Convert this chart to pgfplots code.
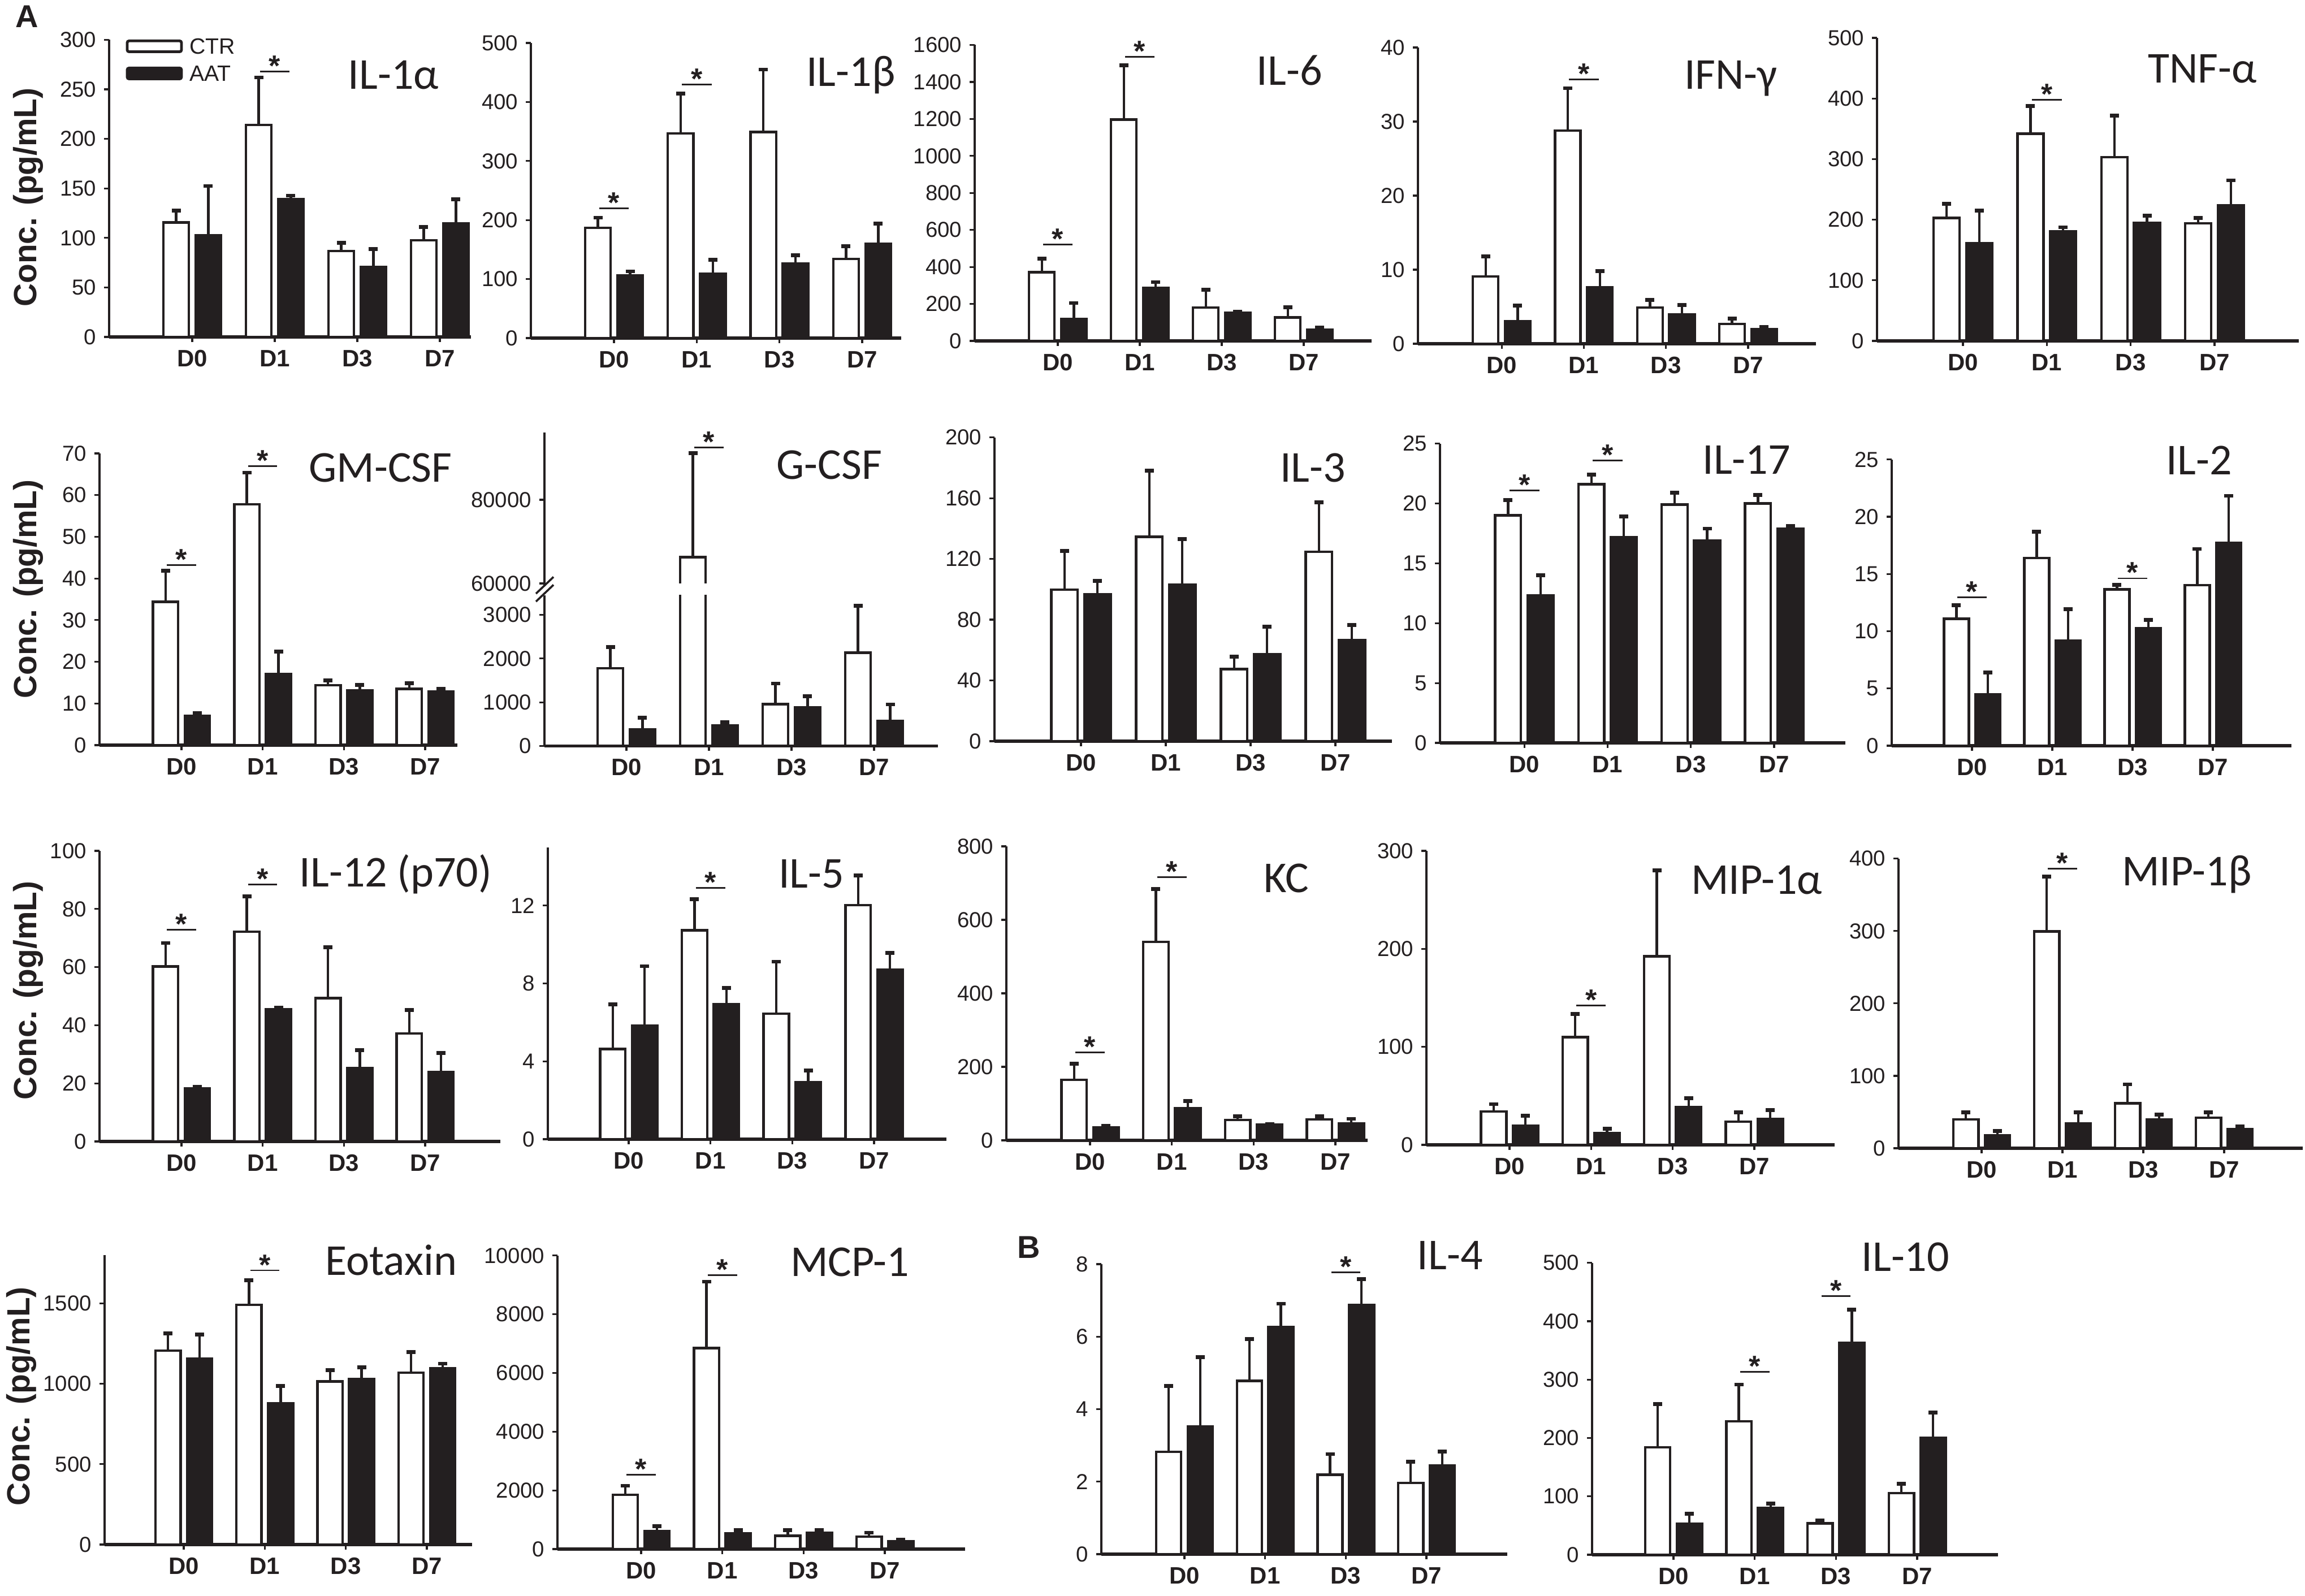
\documentclass[border=0pt]{standalone}
\usepackage{pgfplots}
\pgfplotsset{compat=1.18}
\usepackage{pgfplotstable}
\usepackage{fontspec}
\setmainfont{Liberation Sans}
\newfontfamily\titlefont{Carlito}
\definecolor{ink}{HTML}{231F20}

\pgfplotstableread{
x c ct a at
0 115.5 127.4 102.7 152.4
1 214 262 139 142.7
2 86.7 95 70.9 88.7
3 97.6 110.9 114.7 139
}\tA
\pgfplotstableread{
x c ct a at
0 187 204 106 113
1 347 414 109 133
2 349 455 126 140
3 134 156 160 194
}\tB
\pgfplotstableread{
x c ct a at
0 371 444 120 205
1 1197 1491 286 318
2 181 277 151 159
3 127 183 62 72
}\tC
\pgfplotstableread{
x c ct a at
0 9.1 11.8 3.07 5.18
1 28.8 34.5 7.63 9.78
2 4.9 5.93 3.99 5.25
3 2.69 3.37 1.94 2.28
}\tD
\pgfplotstableread{
x c ct a at
0 203 226 161 215
1 342 387.5 181 187.5
2 303 372 195 207
3 194 203 224 265
}\tE
\pgfplotstableread{
x c ct a at
0 34.4 41.9 7.06 7.65
1 57.8 65.4 17.1 22.5
2 14.4 15.5 13.2 14.4
3 13.5 14.9 12.9 13.5
}\tF
\pgfplotstableread{
x c ct a at
0 1776 2266 381 651
1 66257 91108 468 548
2 957 1430 882 1142
3 2134 3202 576 951
}\tG
\pgfplotstableread{
x c ct a at
0 99.8 125.2 96.6 105.5
1 134.6 178.2 103.2 133
2 47.5 55.6 57.2 75.4
3 124.6 157.4 66.6 76.6
}\tH
\pgfplotstableread{
x c ct a at
0 19.0 20.3 12.3 14.0
1 21.6 22.4 17.2 18.9
2 19.9 20.9 16.9 17.9
3 20.0 20.7 17.9 18.1
}\tI
\pgfplotstableread{
x c ct a at
0 11.09 12.26 4.49 6.38
1 16.4 18.7 9.16 11.94
2 13.66 14.04 10.27 10.98
3 14.04 17.19 17.72 21.83
}\tJ
\pgfplotstableread{
x c ct a at
0 60.2 68.3 18.3 18.7
1 72.2 84.4 45.5 46.0
2 49.3 66.9 25.2 31.4
3 37.2 45.3 23.8 30.4
}\tK
\pgfplotstableread{
x c ct a at
0 4.63 6.93 5.83 8.89
1 10.73 12.33 6.93 7.76
2 6.45 9.12 2.93 3.52
3 12.03 13.56 8.72 9.56
}\tL
\pgfplotstableread{
x c ct a at
0 164.5 209 35.3 38.8
1 540 683.5 86.8 106.6
2 55 65.7 43 44.5
3 57.2 65.7 45.9 58.6
}\tM
\pgfplotstableread{
x c ct a at
0 33.9 41.6 19.3 29.7
1 109.9 133.7 11.9 16.4
2 192.5 279.9 38.4 47.7
3 23.8 33.1 26.5 35.7
}\tN
\pgfplotstableread{
x c ct a at
0 39.8 49.5 17.9 23.7
1 299.6 374.9 34.4 49.5
2 62 88.2 39.8 46.6
3 42.3 49.5 26.2 30.5
}\tO
\pgfplotstableread{
x c ct a at
0 1206 1312 1156 1305
1 1490 1643 880 987
2 1015 1084 1028 1101
3 1068 1198 1096 1125
}\tP
\pgfplotstableread{
x c ct a at
0 1847 2158 622 781
1 6847 9112 542 648
2 453 639 560 639
3 426 560 275 311
}\tQ
\pgfplotstableread{
x c ct a at
0 2.82 4.64 3.52 5.43
1 4.78 5.94 6.27 6.91
2 2.19 2.76 6.87 7.59
3 1.97 2.55 2.44 2.83
}\tR
\pgfplotstableread{
x c ct a at
0 183.9 258 52.7 70.1
1 228.6 291.5 80.4 87.9
2 53.6 58.9 363 419.6
3 105.8 121.9 200 243.3
}\tS

\pgfplotsset{
  panel/.style={
    scale only axis, anchor=south west,
    ymin=0,
    axis x line*=bottom, axis y line*=left,
    x axis line style={line width=1.3pt, ink, -},
    y axis line style={line width=0.9pt, ink, -},
    xtick={0,1,2,3}, xticklabels={D0,D1,D3,D7},
    tick align=outside, major tick length=2.2pt,
    tick style={line width=0.8pt, ink},
    scaled y ticks=false,
    yticklabel style={font=\fontsize{9.6}{10}\selectfont, text=ink,
      /pgf/number format/fixed, /pgf/number format/1000 sep={},
      /pgf/number format/assume math mode=true},
    xticklabel style={font=\bfseries\fontsize{10.5}{11}\selectfont, text=ink, anchor=base, yshift=-10.8pt},
    clip mode=individual,
    title style={font=\titlefont\fontsize{19.5}{20}\selectfont, text=ink, anchor=base, yshift=-6pt},
    ylabel style={font=\bfseries\fontsize{14.2}{15}\selectfont, text=ink, anchor=center},
  },
  errs/.style={error bars/y dir=plus, error bars/y explicit,
     error bars/error bar style={line width=1.1pt, ink},
     error bars/error mark=-,
     error bars/error mark options={rotate=90, line width=1.7pt, mark size=2pt, ink}},
  ctr/.style={ybar, bar width=0.31, bar shift=0pt, fill=white, draw=ink, line width=1.1pt, errs},
  aat/.style={ybar, bar width=0.31, bar shift=0pt, fill=ink, draw=ink, line width=1.1pt, errs},
  mylegend/.style={legend image code/.code={\draw[##1, line width=1.2pt, rounded corners=0.8pt] (0pt,-2.4pt) rectangle (24pt,2.4pt);}},
}

\newcommand\bars[1]{%
  \addplot[ctr] table[x expr=\thisrow{x}-0.195, y=c, y error expr=\thisrow{ct}-\thisrow{c}]{#1};
  \addplot[aat] table[x expr=\thisrow{x}+0.195, y=a, y error expr=\thisrow{at}-\thisrow{a}]{#1};}
\newcommand\sig[4]{%
  \draw[ink, line width=0.7pt] (axis cs:#1,#4) -- (axis cs:#2,#4);
  \node[text=ink, font=\bfseries\fontsize{13}{13}\selectfont, inner sep=0pt, anchor=base, yshift=-2pt] at (axis cs:#3,#4) {*};}
\newcommand\PX[2]{({#1*0.25pt},{-#2*0.25pt})}

\begin{document}
\begin{tikzpicture}
\useasboundingbox (0,0) rectangle \PX{4077}{2823};

% ---------------- Row 1 ----------------
\begin{axis}[panel, at={(48.25pt,-149pt)}, width=160pt, height=131.375pt,
  xmin=-1.007, xmax=3.377, ymax=300, ytick={0,50,...,300},
  title={IL-1α}, title style={at={(0.786,0.835)}},
  ylabel={Conc. (pg/mL)}, ylabel style={at={(axis description cs:-0.2234,0.47)}},
  legend style={at={(0.045,1.014)}, anchor=north west, draw=none, fill=none,
    font=\fontsize{9.8}{10}\selectfont, text=ink, inner sep=0pt, row sep=3pt,
    nodes={inner ysep=1pt, inner xsep=3pt, text height=7pt, text depth=0pt}},
  legend cell align=left]
  \addplot[ctr, mylegend] table[x expr=\thisrow{x}-0.195, y=c, y error expr=\thisrow{ct}-\thisrow{c}]{\tA};
  \addlegendentry{CTR}
  \addplot[aat, mylegend] table[x expr=\thisrow{x}+0.195, y=a, y error expr=\thisrow{at}-\thisrow{a}]{\tA};
  \addlegendentry{AAT}
  \sig{0.82}{1.18}{1}{268}
\end{axis}

\begin{axis}[panel, at={(234.75pt,-149.5pt)}, width=163.75pt, height=130.5pt,
  xmin=-1.005, xmax=3.472, ymax=500, ytick={0,100,...,500},
  title={IL-1β}, title style={at={(0.864,0.854)}}]
  \bars{\tB}
  \sig{-0.18}{0.18}{0}{220}
  \sig{0.82}{1.18}{1}{429.5}
\end{axis}

\begin{axis}[panel, at={(431pt,-150.75pt)}, width=175.5pt, height=130.875pt,
  xmin=-1.014, xmax=3.828, ymax=1600, ytick={0,200,...,1600},
  title={IL-6}, title style={at={(0.793,0.865)}}]
  \bars{\tC}
  \sig{-0.18}{0.18}{0}{521}
  \sig{0.82}{1.18}{1}{1536}
\end{axis}

\begin{axis}[panel, at={(627pt,-152pt)}, width=176pt, height=131pt,
  xmin=-1.019, xmax=3.826, ymax=40, ytick={0,10,...,40},
  title={IFN-γ}, title style={at={(0.786,0.859)}}]
  \bars{\tD}
  \sig{0.82}{1.18}{1}{35.7}
\end{axis}

\begin{axis}[panel, at={(830pt,-150.75pt)}, width=186.5pt, height=134pt,
  xmin=-1.025, xmax=4.005, ymax=500, ytick={0,100,...,500},
  title={TNF-α}, title style={at={(0.771,0.851)}}]
  \bars{\tE}
  \sig{0.82}{1.18}{1}{398}
\end{axis}

% ---------------- Row 2 ----------------
\begin{axis}[panel, at={(44pt,-329.5pt)}, width=158.25pt, height=129pt,
  xmin=-1.009, xmax=3.397, ymax=70, ytick={0,10,...,70},
  title={GM-CSF}, title style={at={(0.785,0.903)}},
  ylabel={Conc. (pg/mL)}, ylabel style={at={(axis description cs:-0.199,0.535)}}]
  \bars{\tF}
  \sig{-0.18}{0.18}{0}{43.2}
  \sig{0.82}{1.18}{1}{66.9}
\end{axis}

\begin{axis}[panel, at={(240.75pt,-329.9pt)}, width=174pt, height=66.75pt,
  xmin=-0.993, xmax=3.774, ymax=3450, ytick={0,1000,2000,3000}]
  \bars{\tG}
\end{axis}
\begin{axis}[panel, at={(240.75pt,-258.75pt)}, width=174pt, height=67.4pt,
  xmin=-0.993, xmax=3.774, ymin=59600, ymax=96000, ytick={60000,80000},
  hide x axis, restrict y to domain=50000:200000,
  title={G-CSF}, title style={at={(0.724,0.697)}}]
  \bars{\tG}
  \fill[white] (axis cs:0.62,59150) rectangle (axis cs:0.99,59980);
  \sig{0.82}{1.18}{1}{92500}
\end{axis}
\draw[ink, line width=0.9pt] \PX{948}{1050} -- \PX{979}{1020.5};
\draw[ink, line width=0.9pt] \PX{948}{1064} -- \PX{979}{1034.5};

\begin{axis}[panel, at={(439.75pt,-327.75pt)}, width=175.75pt, height=134.325pt,
  xmin=-1.02, xmax=3.667, ymax=200, ytick={0,40,...,200},
  title={IL-3}, title style={at={(0.801,0.854)}}]
  \bars{\tH}
\end{axis}

\begin{axis}[panel, at={(636.75pt,-328.5pt)}, width=179.25pt, height=132.35pt,
  xmin=-1.012, xmax=3.855, ymax=25, ytick={0,5,...,25},
  title={IL-17}, title style={at={(0.756,0.899)}}]
  \bars{\tI}
  \sig{-0.18}{0.18}{0}{21.1}
  \sig{0.82}{1.18}{1}{23.6}
\end{axis}

\begin{axis}[panel, at={(836.5pt,-329.75pt)}, width=176.75pt, height=126.55pt,
  xmin=-1.0, xmax=3.979, ymax=25, ytick={0,5,...,25},
  title={IL-2}, title style={at={(0.769,0.948)}}]
  \bars{\tJ}
  \sig{-0.18}{0.18}{0}{12.97}
  \sig{1.82}{2.18}{2}{14.62}
\end{axis}

% ---------------- Row 3 ----------------
\begin{axis}[panel, at={(44pt,-504.75pt)}, width=177.25pt, height=128.5pt,
  xmin=-1.009, xmax=3.926, ymax=100, ytick={0,20,...,100},
  title={IL-12 (p70)}, title style={at={(0.739,0.877)}},
  ylabel={Conc. (pg/mL)}, ylabel style={at={(axis description cs:-0.178,0.519)}}]
  \bars{\tK}
  \sig{-0.18}{0.18}{0}{72.8}
  \sig{0.82}{1.18}{1}{88.4}
\end{axis}

\begin{axis}[panel, at={(242.25pt,-503.75pt)}, width=176.25pt, height=129.125pt,
  xmin=-0.988, xmax=3.885, ymax=15, ytick={0,4,8,12},
  title={IL-5}, title style={at={(0.661,0.860)}}]
  \bars{\tL}
  \sig{0.82}{1.18}{1}{12.9}
\end{axis}

\begin{axis}[panel, at={(445pt,-504.25pt)}, width=159.75pt, height=130pt,
  xmin=-1.023, xmax=3.394, ymax=800, ytick={0,200,...,800},
  title={KC}, title style={at={(0.775,0.844)}}]
  \bars{\tM}
  \sig{-0.18}{0.18}{0}{238.7}
  \sig{0.82}{1.18}{1}{716.7}
\end{axis}

\begin{axis}[panel, at={(630.75pt,-506.25pt)}, width=180.5pt, height=130pt,
  xmin=-1.019, xmax=3.984, ymax=300, ytick={0,100,...,300},
  title={MIP-1α}, title style={at={(0.809,0.852)}}]
  \bars{\tN}
  \sig{0.82}{1.18}{1}{142.2}
\end{axis}

\begin{axis}[panel, at={(839.5pt,-507.75pt)}, width=178.75pt, height=128.075pt,
  xmin=-1.028, xmax=3.972, ymax=400, ytick={0,100,...,400},
  title={MIP-1β}, title style={at={(0.713,0.906)}}]
  \bars{\tO}
  \sig{0.82}{1.18}{1}{386.4}
\end{axis}

% ---------------- Row 4 ----------------
\begin{axis}[panel, at={(46.25pt,-683pt)}, width=162.5pt, height=128pt,
  xmin=-0.977, xmax=3.558, ymax=1800, ytick={0,500,1000,1500},
  title={Eotaxin}, title style={at={(0.780,0.930)}},
  ylabel={Conc. (pg/mL)}, ylabel style={at={(axis description cs:-0.226,0.512)}}]
  \bars{\tP}
  \sig{0.82}{1.18}{1}{1705}
\end{axis}

\begin{axis}[panel, at={(246.5pt,-685pt)}, width=180.25pt, height=129.8pt,
  xmin=-1.03, xmax=3.988, ymax=10000, ytick={0,2000,...,10000},
  title={MCP-1}, title style={at={(0.717,0.930)}}]
  \bars{\tQ}
  \sig{-0.18}{0.18}{0}{2531}
  \sig{0.82}{1.18}{1}{9325}
\end{axis}

\begin{axis}[panel, at={(487pt,-687.25pt)}, width=179.5pt, height=128.25pt,
  xmin=-1.03, xmax=4.002, ymax=8, ytick={0,2,...,8},
  title={IL-4}, title style={at={(0.859,0.982)}}]
  \bars{\tR}
  \sig{1.82}{2.18}{2}{7.78}
\end{axis}

\begin{axis}[panel, at={(704pt,-687.5pt)}, width=179.5pt, height=129.075pt,
  xmin=-1.002, xmax=3.995, ymax=500, ytick={0,100,...,500},
  title={IL-10}, title style={at={(0.772,0.972)}}]
  \bars{\tS}
  \sig{0.82}{1.18}{1}{313.4}
  \sig{1.82}{2.18}{2}{442.9}
\end{axis}

\node[text=ink, font=\bfseries\fontsize{14}{14}\selectfont, inner sep=0pt] at \PX{48}{29} {A};
\node[text=ink, font=\bfseries\fontsize{14}{14}\selectfont, inner sep=0pt] at \PX{1820}{2206} {B};
\end{tikzpicture}
\end{document}
